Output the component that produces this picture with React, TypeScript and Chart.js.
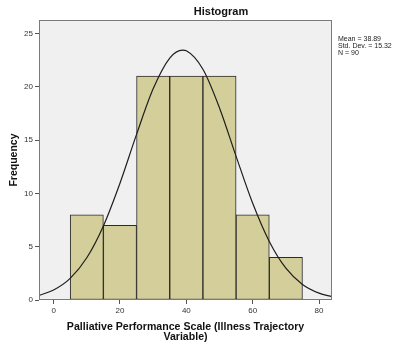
import React, { useEffect, useRef } from 'react';
import { Chart, registerables } from 'chart.js';

Chart.register(...registerables);

// ---- data ----
const binStarts = [5, 15, 25, 35, 45, 55, 65];
const binWidth = 10;
const frequencies = [8, 7, 21, 21, 21, 8, 4];
const curveX = [-4.4, 0, 5, 10, 15, 20, 25, 30, 35, 38.89, 40, 45, 50, 55, 60, 65, 70, 75, 80, 83.9];
const curveY = [0.43, 0.94, 2.03, 3.96, 6.95, 10.96, 15.54, 19.81, 22.7, 23.44, 23.38, 21.65, 18.02, 13.48, 9.07, 5.49, 2.98, 1.46, 0.64, 0.31];
const xTickValues = [0, 20, 40, 60, 80];
const yTickValues = [0, 5, 10, 15, 20, 25];
const chartTitle = 'Histogram';
const statsLines = ['Mean = 38.89', 'Std. Dev. = 15.32', 'N = 90'];
const xAxisTitle = ['Palliative Performance Scale (Illness Trajectory', 'Variable)'];
const yAxisTitle = 'Frequency';

const FONT = "'Liberation Sans', Arial, sans-serif";

const decorPlugin = {
  id: 'decor',
  beforeDatasetsDraw(chart: any) {
    const { ctx, chartArea } = chart;
    ctx.save();
    ctx.fillStyle = '#F0F0F0';
    ctx.fillRect(chartArea.left, chartArea.top, chartArea.right - chartArea.left, chartArea.bottom - chartArea.top);
    ctx.restore();
  },
  afterDraw(chart: any) {
    const { ctx, chartArea } = chart;
    ctx.save();
    ctx.strokeStyle = '#7a7a7a';
    ctx.lineWidth = 1;
    ctx.strokeRect(
      Math.round(chartArea.left) + 0.5,
      Math.round(chartArea.top) + 0.5,
      Math.round(chartArea.right - chartArea.left) - 1,
      Math.round(chartArea.bottom - chartArea.top) - 1
    );
    // title
    ctx.fillStyle = '#111';
    ctx.font = `bold 11px ${FONT}`;
    ctx.textAlign = 'center';
    ctx.textBaseline = 'middle';
    ctx.fillText(chartTitle, 221, 11.5);
    // stats
    ctx.font = `7px ${FONT}`;
    ctx.textAlign = 'left';
    ctx.fillStyle = '#222';
    statsLines.forEach((s, i) => {
      ctx.fillText(s, chartArea.right + 6, 39.5 + i * 6.8);
    });
    ctx.restore();
  },
};

export default function App() {
  const canvasRef = useRef<HTMLCanvasElement | null>(null);

  useEffect(() => {
    document.body.style.margin = '0';
    const canvas = canvasRef.current;
    if (!canvas) return;
    const barData = binStarts.map((s, i) => ({ x: s + binWidth / 2, y: frequencies[i] }));
    const lineData = curveX.map((x, i) => ({ x, y: curveY[i] }));

    const chart = new Chart(canvas, {
      type: 'bar',
      data: {
        datasets: [
          {
            type: 'line',
            data: lineData,
            borderColor: '#1e1e1e',
            borderWidth: 1.2,
            pointRadius: 0,
            fill: false,
            cubicInterpolationMode: 'monotone',
            order: 0,
          } as any,
          {
            type: 'bar',
            data: barData,
            backgroundColor: '#D3CE9A',
            borderColor: '#2a2a2a',
            borderWidth: 1,
            borderSkipped: false,
            barPercentage: 1,
            categoryPercentage: 1,
            order: 1,
          } as any,
        ],
      },
      options: {
        responsive: false,
        animation: false,
        layout: { padding: { left: 0, top: 20, right: 65, bottom: 0 } },
        plugins: {
          legend: { display: false },
          tooltip: { enabled: false },
          title: { display: false },
        },
        scales: {
          x: {
            type: 'linear',
            min: -4.4,
            max: 83.9,
            offset: false,
            afterBuildTicks: (scale: any) => {
              scale.ticks = xTickValues.map((v) => ({ value: v }));
            },
            afterFit: (scale: any) => {
              scale.height = 45;
            },
            grid: { offset: false, drawOnChartArea: false, drawTicks: true, tickLength: 4, tickColor: '#555' },
            border: { display: false },
            ticks: { font: { family: FONT, size: 8 }, color: '#333', padding: 2, maxRotation: 0 },
            title: {
              display: true,
              text: xAxisTitle,
              font: { family: FONT, size: 10.6, weight: 'bold', lineHeight: 1.0 },
              color: '#111',
              padding: { top: 0, bottom: 2.4 },
            },
          },
          y: {
            type: 'linear',
            min: 0,
            max: 26.27,
            afterBuildTicks: (scale: any) => {
              scale.ticks = yTickValues.map((v) => ({ value: v }));
            },
            afterFit: (scale: any) => {
              scale.width = 39;
            },
            grid: { offset: false, drawOnChartArea: false, drawTicks: true, tickLength: 4, tickColor: '#555' },
            border: { display: false },
            ticks: { font: { family: FONT, size: 8 }, color: '#333', padding: 2 },
            title: {
              display: true,
              text: yAxisTitle,
              font: { family: FONT, size: 10.5, weight: 'bold' },
              color: '#111',
              padding: { top: 7.7, bottom: 0 },
            },
          },
        },
      },
      plugins: [decorPlugin],
    } as any);

    return () => chart.destroy();
  }, []);

  return (
    <div style={{ width: 397, height: 345, background: '#fff' }}>
      <canvas ref={canvasRef} width={397} height={345} style={{ display: 'block' }} />
    </div>
  );
}
